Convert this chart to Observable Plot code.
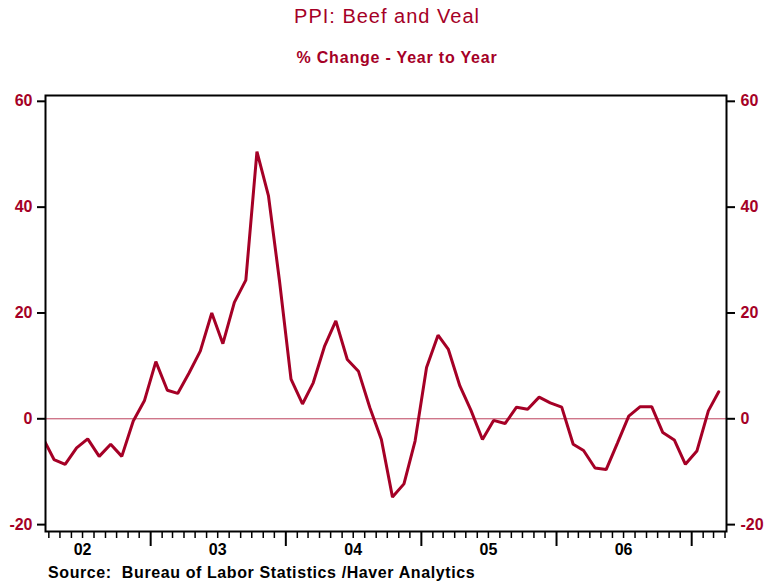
<!DOCTYPE html>
<html>
<head>
<meta charset="utf-8">
<script src="https://cdn.jsdelivr.net/npm/d3@7"></script>
<script src="https://cdn.jsdelivr.net/npm/@observablehq/plot@0.6"></script>
<style>
  html, body { margin: 0; padding: 0; background: #fff; }
  body { width: 780px; height: 586px; position: relative; overflow: hidden; font-family: "Liberation Sans", Arial, sans-serif; }
  #title { position: absolute; top: 6px; left: 387px; transform: translateX(-50%); font-size: 20px; letter-spacing: 1px; line-height: 1; color: #a50026; white-space: nowrap; }
  #subtitle { position: absolute; top: 50px; left: 397px; transform: translateX(-50%); font-size: 16px; letter-spacing: 0.8px; line-height: 1; font-weight: bold; color: #a50026; white-space: nowrap; }
  #chart { position: absolute; top: 80px; left: 0; }
  #source { position: absolute; top: 564px; left: 48px; font-size: 16px; letter-spacing: 0.6px; line-height: 18px; font-weight: bold; color: #000; white-space: pre; }
</style>
</head>
<body>
<div id="title">PPI: Beef and Veal</div>
<div id="subtitle">% Change - Year to Year</div>
<div id="chart"></div>
<div id="source">Source:  Bureau of Labor Statistics /Haver Analytics</div>
<script>
// Monthly observations, Mar 2002 .. Mar 2007
const startMonth = "2002-03";
const values = [
  -3.5, -7.7, -8.6, -5.5, -3.8, -7.1, -4.8, -7.1, -0.4, 3.4,           // 2002 Mar-Dec
  10.8, 5.4, 4.8, 8.7, 12.8, 20.0, 14.2, 22.0, 26.2, 50.5, 42.2, 26.0, // 2003
  7.5, 2.8, 6.8, 13.8, 18.5, 11.2, 9.0, 2.1, -3.9, -14.8, -12.3, -4.2, // 2004
  9.7, 15.8, 13.1, 6.2, 1.6, -3.9, -0.3, -0.9, 2.2, 1.8, 4.1, 3.0,     // 2005
  2.2, -4.8, -6.0, -9.3, -9.6, -4.5, 0.5, 2.3, 2.3, -2.6, -4.0, -8.6,  // 2006
  -6.1, 1.5, 5.1                                                       // 2007 Jan-Mar
];
const yearLabels = ["02", "03", "04", "05", "06"];
const yTicks = [-20, 0, 20, 40, 60];

const red = "#a50026";
const [sy, sm] = startMonth.split("-").map(Number);
const data = values.map((v, i) => ({date: new Date(Date.UTC(sy, sm - 1 + i, 15)), value: v}));

const minorTicks = d3.utcMonth.range(new Date(Date.UTC(2002, 3, 1)), new Date(Date.UTC(2007, 3, 2)))
  .filter(d => d.getUTCMonth() !== 0);
const majorTicks = d3.utcYear.range(new Date(Date.UTC(2003, 0, 1)), new Date(Date.UTC(2007, 0, 2)));
const labelTicks = yearLabels.map(s => new Date(Date.UTC(2000 + Number(s), 6, 1)));

const chart = Plot.plot({
  width: 780,
  height: 480,
  marginLeft: 45,
  marginRight: 54,
  marginTop: 15,
  marginBottom: 29,
  style: {fontFamily: "'Liberation Sans', Arial, sans-serif", fontSize: "16px", background: "white"},
  x: {type: "utc", domain: [new Date(Date.UTC(2002, 2, 23)), new Date(Date.UTC(2007, 3, 5))]},
  y: {domain: [-21.3, 61.1]},
  marks: [
    Plot.ruleY([0], {stroke: red, strokeWidth: 1, strokeOpacity: 0.75}),
    Plot.line(data, {x: "date", y: "value", stroke: red, strokeWidth: 3, strokeLinejoin: "miter", clip: true}),
    Plot.frame({stroke: "black", strokeWidth: 2}),
    Plot.axisY({anchor: "left", ticks: yTicks, tickSize: 8, tickPadding: 5, stroke: "black", strokeWidth: 2, fill: red, fontWeight: "bold", fontSize: 16, tickFormat: d => String(d), label: null}),
    Plot.axisY({anchor: "right", ticks: yTicks, tickSize: 8, tickPadding: 6, stroke: "black", strokeWidth: 2, fill: red, fontWeight: "bold", fontSize: 16, tickFormat: d => String(d), label: null}),
    Plot.axisX({ticks: minorTicks, tickSize: 7, stroke: "black", strokeWidth: 1.5, tickFormat: () => "", label: null}),
    Plot.axisX({ticks: majorTicks, tickSize: 15, stroke: "black", strokeWidth: 2, tickFormat: () => "", label: null}),
    Plot.axisX({ticks: labelTicks, tickSize: 0, tickPadding: 12, fill: "black", fontWeight: "bold", fontSize: 16,
      tickFormat: d => yearLabels[labelTicks.findIndex(t => +t === +d)], label: null})
  ]
});
document.getElementById("chart").appendChild(chart);
</script>
</body>
</html>
